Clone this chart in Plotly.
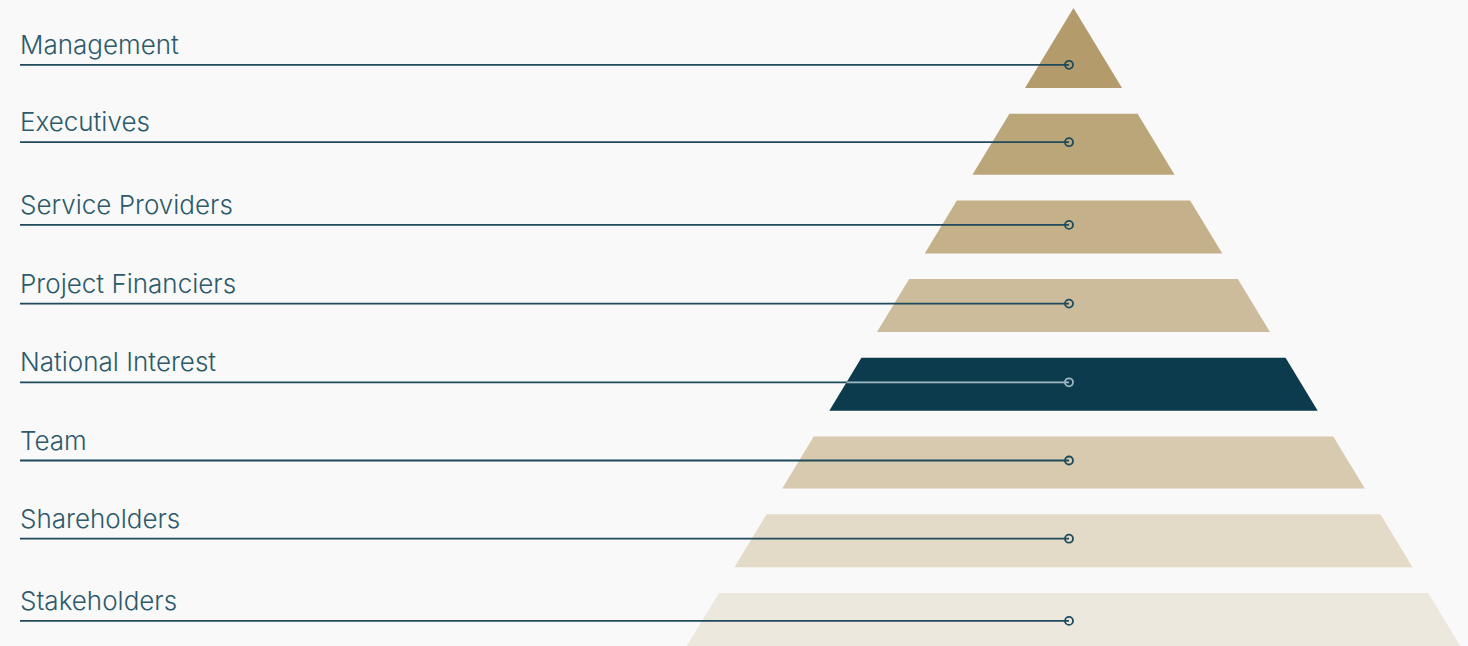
import plotly.graph_objects as go

# ---- data ----
levels = ["Management", "Executives", "Service Providers", "Project Financiers",
          "National Interest", "Team", "Shareholders", "Stakeholders"]
level_heights = [80, 61, 53, 53, 53, 52, 53, 60]
highlight = "National Interest"

# ---- style ----
band_colors = ["#b39b6b", "#bba679", "#c4b089", "#cdbc9b",
               "#0b3b4d", "#d8caae", "#e3dac7", "#ede8de"]
bg = "#f9f9f9"
line_color = "#1f4a5b"
text_color = "#2c5a6b"
light_line = "#9fb7c1"

W, H = 1468, 646
apex_x, apex_y = 1073.5, 8
slope = 48.5 / 80.0      # half-width growth per pixel of height
gap = 25.7
label_x0 = 20
dot_x = 1069

fig = go.Figure()

def hw(y):
    return (y - apex_y) * slope

top = apex_y
line_ys = []
for i, (name, h) in enumerate(zip(levels, level_heights)):
    bot = top + h
    xs = [apex_x - hw(top), apex_x + hw(top), apex_x + hw(bot), apex_x - hw(bot), apex_x - hw(top)]
    ys = [top, top, bot, bot, top]
    fig.add_trace(go.Scatter(x=xs, y=ys, mode="lines", fill="toself",
                             fillcolor=band_colors[i], line=dict(width=0, color=band_colors[i]),
                             hoverinfo="skip", showlegend=False))
    ly = top + (0.71 * h if i == 0 else 0.5 * h - 2)
    line_ys.append(ly)
    top = bot + gap

# leader lines
for i, (name, ly) in enumerate(zip(levels, line_ys)):
    fig.add_trace(go.Scatter(x=[label_x0, dot_x], y=[ly, ly], mode="lines",
                             line=dict(color=line_color, width=1.8),
                             hoverinfo="skip", showlegend=False))
    col = line_color
    if name == highlight:
        fig.add_trace(go.Scatter(x=[apex_x - hw(ly), dot_x], y=[ly, ly], mode="lines",
                                 line=dict(color=light_line, width=1.8),
                                 hoverinfo="skip", showlegend=False))
        col = light_line
    fig.add_trace(go.Scatter(x=[dot_x], y=[ly], mode="markers",
                             marker=dict(symbol="circle-open", size=8, color=col,
                                         line=dict(width=1.8, color=col)),
                             hoverinfo="skip", showlegend=False))
    fig.add_annotation(x=label_x0 - 1.5, y=ly - 4, xref="x", yref="y", text=name,
                       showarrow=False, xanchor="left", yanchor="bottom",
                       font=dict(family="Inter", size=26, color=text_color, weight=300),
                       borderpad=0)

fig.update_layout(width=W, height=H, margin=dict(l=0, r=0, t=0, b=0),
                  paper_bgcolor=bg, plot_bgcolor=bg,
                  xaxis=dict(range=[0, W], visible=False, fixedrange=True),
                  yaxis=dict(range=[H, 0], visible=False, fixedrange=True))

fig.write_html("out.html", config={"displayModeBar": False})

with open("out.html", "r", encoding="utf-8") as f:
    html = f.read()
html = html.replace("<body>", '<body style="margin:0;background:%s;overflow:hidden">' % bg, 1)
with open("out.html", "w", encoding="utf-8") as f:
    f.write(html)
